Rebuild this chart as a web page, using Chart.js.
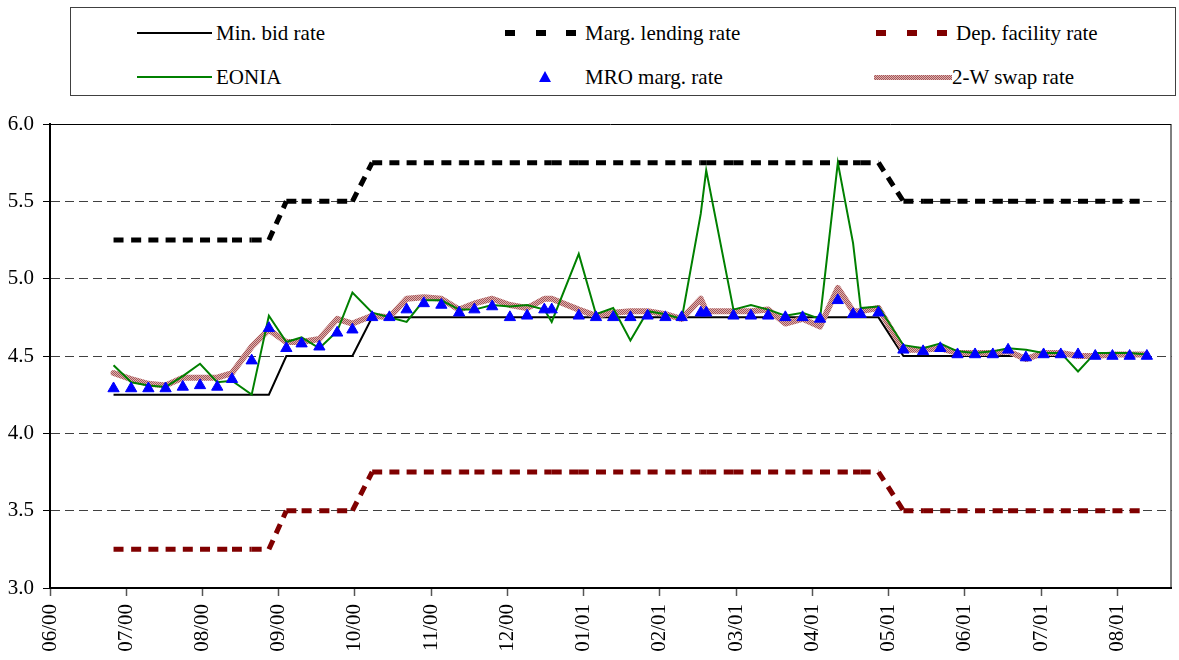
<!DOCTYPE html>
<html>
<head>
<meta charset="utf-8">
<script src="https://cdn.jsdelivr.net/npm/chart.js@4.4.0/dist/chart.umd.min.js"></script>
<style>
  html, body { margin: 0; padding: 0; background: #fff; }
  #wrap { position: relative; width: 1179px; height: 660px; overflow: hidden; }
  #chart { position: absolute; left: 0; top: 0; }
  #legendBox { position: absolute; left: 70px; top: 7px; width: 1106px; height: 89px; border: 1px solid #404040; box-sizing: border-box; background: #fff; }
  .lg { position: absolute; font-family: "Liberation Serif", "Times New Roman", serif; font-size: 21px; line-height: 22px; white-space: nowrap; color: #000; }
  .sw { position: absolute; }
</style>
</head>
<body>
<div id="wrap">
  <canvas id="chart" width="1179" height="660"></canvas>
  <div id="legendBox"></div>
  <div id="legendItems"></div>
</div>
<script>
// month ticks (06/00 = 0)
const monthLabels = ['06/00', '07/00', '08/00', '09/00', '10/00', '11/00', '12/00', '01/01',
  '02/01', '03/01', '04/01', '05/01', '06/01', '07/01', '08/01'];

// weekly observation dates
const weekDates = [
  '2000-06-26', '2000-07-03', '2000-07-10', '2000-07-17', '2000-07-24', '2000-07-31',
  '2000-08-07', '2000-08-13', '2000-08-21', '2000-08-28', '2000-09-04', '2000-09-10',
  '2000-09-17', '2000-09-24', '2000-09-30', '2000-10-08', '2000-10-15', '2000-10-22',
  '2000-10-29', '2000-11-05', '2000-11-12', '2000-11-18', '2000-11-25', '2000-12-02',
  '2000-12-09', '2000-12-16', '2000-12-19', '2000-12-30', '2001-01-06', '2001-01-13',
  '2001-01-20', '2001-01-27', '2001-02-03', '2001-02-09', '2001-02-16', '2001-02-18',
  '2001-02-28', '2001-03-07', '2001-03-14', '2001-03-21', '2001-03-28', '2001-04-04',
  '2001-04-11', '2001-04-17', '2001-04-20', '2001-04-27', '2001-05-07', '2001-05-15',
  '2001-05-22', '2001-05-29', '2001-06-05', '2001-06-12', '2001-06-18', '2001-06-25',
  '2001-07-02', '2001-07-09', '2001-07-16', '2001-07-23', '2001-07-30', '2001-08-06',
  '2001-08-13'];

const minBidRate = [
  4.25, 4.25, 4.25, 4.25, 4.25, 4.25, 4.25, 4.25, 4.25, 4.25,
  4.50, 4.50, 4.50, 4.50, 4.50,
  4.75, 4.75, 4.75, 4.75, 4.75, 4.75, 4.75, 4.75, 4.75, 4.75,
  4.75, 4.75, 4.75, 4.75, 4.75, 4.75, 4.75, 4.75, 4.75, 4.75,
  4.75, 4.75, 4.75, 4.75, 4.75, 4.75, 4.75, 4.75, 4.75, 4.75, 4.75,
  4.50, 4.50, 4.50, 4.50, 4.50, 4.50, 4.50, 4.50, 4.50, 4.50,
  4.50, 4.50, 4.50, 4.50, 4.50];

const margLendingRate = [
  5.25, 5.25, 5.25, 5.25, 5.25, 5.25, 5.25, 5.25, 5.25, 5.25,
  5.50, 5.50, 5.50, 5.50, 5.50,
  5.75, 5.75, 5.75, 5.75, 5.75, 5.75, 5.75, 5.75, 5.75, 5.75,
  5.75, 5.75, 5.75, 5.75, 5.75, 5.75, 5.75, 5.75, 5.75, 5.75,
  5.75, 5.75, 5.75, 5.75, 5.75, 5.75, 5.75, 5.75, 5.75, 5.75, 5.75,
  5.50, 5.50, 5.50, 5.50, 5.50, 5.50, 5.50, 5.50, 5.50, 5.50,
  5.50, 5.50, 5.50, 5.50, 5.50];

const depFacilityRate = [
  3.25, 3.25, 3.25, 3.25, 3.25, 3.25, 3.25, 3.25, 3.25, 3.25,
  3.50, 3.50, 3.50, 3.50, 3.50,
  3.75, 3.75, 3.75, 3.75, 3.75, 3.75, 3.75, 3.75, 3.75, 3.75,
  3.75, 3.75, 3.75, 3.75, 3.75, 3.75, 3.75, 3.75, 3.75, 3.75,
  3.75, 3.75, 3.75, 3.75, 3.75, 3.75, 3.75, 3.75, 3.75, 3.75, 3.75,
  3.50, 3.50, 3.50, 3.50, 3.50, 3.50, 3.50, 3.50, 3.50, 3.50,
  3.50, 3.50, 3.50, 3.50, 3.50];

const eoniaRate = [
  4.44, 4.33, 4.31, 4.30, 4.37, 4.45, 4.33, 4.34, 4.25, 4.76,
  4.59, 4.62, 4.55, 4.66, 4.91,
  4.78, 4.75, 4.72, 4.86, 4.86, 4.80, 4.80, 4.83, 4.82, 4.83,
  4.80, 4.72, 5.16, 4.77, 4.81, 4.60, 4.79, 4.77, 4.74, 5.42,
  5.70, 4.80, 4.83, 4.80, 4.76, 4.78, 4.74, 5.75, 5.23, 4.81, 4.82,
  4.57, 4.55, 4.58, 4.53, 4.52, 4.53, 4.55, 4.54, 4.52, 4.52,
  4.40, 4.52, 4.52, 4.52, 4.51];

const mroMargRate = [
  4.29, 4.29, 4.29, 4.29, 4.30, 4.31, 4.30, 4.35, 4.47, 4.68,
  4.55, 4.58, 4.56, 4.65, 4.67,
  4.75, 4.75, 4.80, 4.84, 4.83, 4.78, 4.80, 4.82, 4.75, 4.76,
  4.80, 4.80, 4.76, 4.75, 4.75, 4.75, 4.76, 4.75, 4.75, 4.78,
  4.78, 4.76, 4.76, 4.76, 4.75, 4.75, 4.74, 4.86, 4.77, 4.77, 4.78,
  4.54, 4.53, 4.55, 4.51, 4.51, 4.51, 4.54, 4.49, 4.51, 4.51,
  4.51, 4.50, 4.50, 4.50, 4.50];

const swapRate2W = [
  4.39, 4.35, 4.32, 4.31, 4.36, 4.36, 4.36, 4.39, 4.56, 4.67,
  4.59, 4.59, 4.61, 4.74, 4.71,
  4.76, 4.75, 4.87, 4.88, 4.87, 4.80, 4.84, 4.87, 4.83, 4.81,
  4.87, 4.87, 4.80, 4.76, 4.78, 4.79, 4.79, 4.77, 4.74, 4.87,
  4.79, 4.79, 4.79, 4.80, 4.71, 4.74, 4.69, 4.94, 4.79, 4.79, 4.81,
  4.54, 4.54, 4.55, 4.52, 4.52, 4.52, 4.53, 4.48, 4.52, 4.52,
  4.50, 4.50, 4.51, 4.51, 4.51];

// date string -> position in months from 06/00
function monthPos(d) {
  const [y, m, day] = d.split('-').map(Number);
  const idx = (y - 2000) * 12 + (m - 6);
  const dim = new Date(y, m, 0).getDate();
  return idx + (day - 1) / dim;
}

function series(vals) {
  return weekDates.map((d, i) => ({ x: monthPos(d), y: vals[i] }));
}

function swapPattern() {
  const c = document.createElement('canvas');
  c.width = 2; c.height = 2;
  const g = c.getContext('2d');
  g.fillStyle = '#ddb2b2';
  g.fillRect(0, 0, 2, 2);
  g.fillStyle = '#a65656';
  g.fillRect(0, 0, 1, 1);
  g.fillRect(1, 1, 1, 1);
  return g.createPattern(c, 'repeat');
}

// dash pattern restarts on every weekly segment, like the original
const restartDash = { borderDashOffset: c => (c.p0DataIndex % 2) * 0.001 };

const plotFrame = {
  id: 'plotFrame',
  beforeDatasetsDraw(chart) {
    const a = chart.chartArea, ctx = chart.ctx;
    ctx.save();
    ctx.strokeStyle = '#000';
    ctx.lineWidth = 1;
    ctx.beginPath();
    ctx.moveTo(a.left, a.top + 0.5);
    ctx.lineTo(a.right - 0.5, a.top + 0.5);
    ctx.lineTo(a.right - 0.5, a.bottom);
    ctx.stroke();
    ctx.restore();
  }
};

const serif = '"Liberation Serif", "Times New Roman", serif';

new Chart(document.getElementById('chart').getContext('2d'), {
  type: 'line',
  data: {
    datasets: [
      {
        label: 'MRO marg. rate', data: series(mroMargRate), order: 0,
        showLine: false, pointStyle: 'triangle', pointRadius: 6.5, pointBorderWidth: 1,
        pointBackgroundColor: '#0000ff', pointBorderColor: '#0000ff'
      },
      {
        label: 'EONIA', data: series(eoniaRate), order: 1,
        borderColor: '#008000', borderWidth: 2, pointRadius: 0, tension: 0
      },
      {
        label: '2-W swap rate', data: series(swapRate2W), order: 2,
        borderColor: swapPattern(), borderWidth: 6, borderJoinStyle: 'round',
        borderCapStyle: 'round', pointRadius: 0, tension: 0
      },
      {
        label: 'Min. bid rate', data: series(minBidRate), order: 3,
        borderColor: '#000', borderWidth: 2, pointRadius: 0, tension: 0
      },
      {
        label: 'Marg. lending rate', data: series(margLendingRate), order: 4,
        borderColor: '#000', borderWidth: 5, borderDash: [10, 7.5], borderCapStyle: 'butt',
        pointRadius: 0, tension: 0, segment: restartDash
      },
      {
        label: 'Dep. facility rate', data: series(depFacilityRate), order: 5,
        borderColor: '#800000', borderWidth: 5, borderDash: [10, 7.5], borderCapStyle: 'butt',
        pointRadius: 0, tension: 0, segment: restartDash
      }
    ]
  },
  options: {
    responsive: false,
    animation: false,
    events: [],
    layout: { padding: { top: 124, right: 1, left: 0, bottom: 0 } },
    plugins: { legend: { display: false }, tooltip: { enabled: false } },
    scales: {
      x: {
        type: 'linear', min: 0, max: 14.71,
        afterBuildTicks: s => { s.ticks = monthLabels.map((_, i) => ({ value: i })); },
        afterFit: s => { s.height = 72; },
        ticks: {
          callback: v => monthLabels[v],
          autoSkip: false, minRotation: 90, maxRotation: 90, padding: 8,
          color: '#000', font: { family: serif, size: 21 }
        },
        grid: { drawOnChartArea: false, drawTicks: true, tickLength: 8, tickColor: '#555', tickWidth: 1.5 },
        border: { color: '#000', width: 2 }
      },
      y: {
        min: 3, max: 6,
        afterBuildTicks: s => { s.ticks = [3, 3.5, 4, 4.5, 5, 5.5, 6].map(v => ({ value: v })); },
        afterFit: s => { s.width = 50; },
        ticks: {
          callback: v => v.toFixed(1), padding: 9,
          color: '#000', font: { family: serif, size: 21 }
        },
        grid: { color: '#404040', lineWidth: 1, tickLength: 7, tickColor: '#000', tickWidth: 1, tickBorderDash: [] },
        border: { color: '#000', width: 2, dash: [9, 5] }
      }
    }
  },
  plugins: [plotFrame]
});

// legend
const legendItems = [
  { text: 'Min. bid rate', tx: 216, y: 33, kind: 'line', color: '#000', x0: 137, x1: 212, w: 2 },
  { text: 'Marg. lending rate', tx: 585, y: 33, kind: 'dash', color: '#000', x0: 505 },
  { text: 'Dep. facility rate', tx: 956, y: 33, kind: 'dash', color: '#800000', x0: 876 },
  { text: 'EONIA', tx: 216, y: 77, kind: 'line', color: '#008000', x0: 137, x1: 212, w: 2 },
  { text: 'MRO marg. rate', tx: 585, y: 77, kind: 'tri', color: '#0000ff', x0: 545 },
  { text: '2-W swap rate', tx: 952, y: 77, kind: 'swap', x0: 874, x1: 952, w: 5 }
];

const box = document.getElementById('legendItems');
legendItems.forEach(it => {
  if (it.kind === 'line' || it.kind === 'swap') {
    const s = document.createElement('div');
    s.className = 'sw';
    s.style.left = it.x0 + 'px';
    s.style.width = (it.x1 - it.x0) + 'px';
    s.style.top = (it.y - it.w / 2) + 'px';
    s.style.height = it.w + 'px';
    if (it.kind === 'swap') {
      s.style.background = 'repeating-conic-gradient(#a65656 0 25%, #ddb2b2 0 50%) 0 0 / 2px 2px';
    } else {
      s.style.background = it.color;
    }
    box.appendChild(s);
  } else if (it.kind === 'dash') {
    for (let k = 0; k < 3; k++) {
      const s = document.createElement('div');
      s.className = 'sw';
      s.style.left = (it.x0 + k * 30.5) + 'px';
      s.style.top = (it.y - 3) + 'px';
      s.style.width = '10px';
      s.style.height = '6px';
      s.style.background = it.color;
      box.appendChild(s);
    }
  } else if (it.kind === 'tri') {
    const s = document.createElement('div');
    s.className = 'sw';
    s.style.left = (it.x0 - 6) + 'px';
    s.style.top = (it.y - 6) + 'px';
    s.style.width = '0';
    s.style.height = '0';
    s.style.borderLeft = '6px solid transparent';
    s.style.borderRight = '6px solid transparent';
    s.style.borderBottom = '11px solid ' + it.color;
    box.appendChild(s);
  }
  const t = document.createElement('div');
  t.className = 'lg';
  t.textContent = it.text;
  t.style.left = it.tx + 'px';
  t.style.top = (it.y - 11) + 'px';
  box.appendChild(t);
});
</script>
</body>
</html>
